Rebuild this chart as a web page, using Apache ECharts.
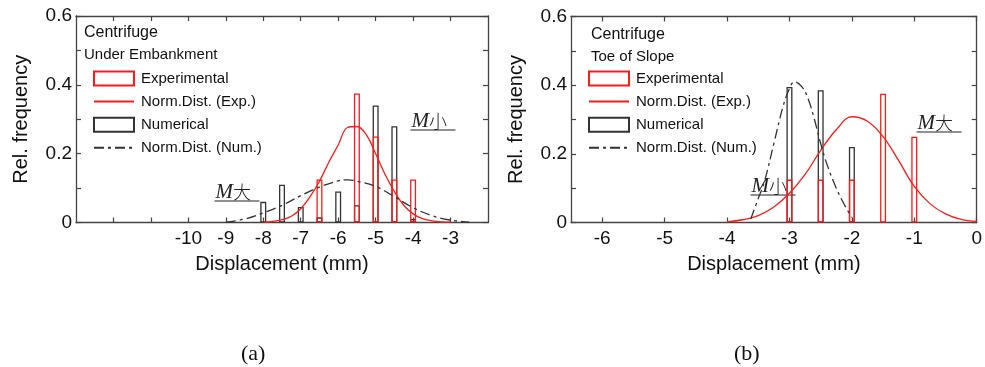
<!DOCTYPE html>
<html>
<head>
<meta charset="utf-8">
<script src="https://cdn.jsdelivr.net/npm/echarts@6/dist/echarts.min.js"></script>
<style>
  html, body { margin: 0; padding: 0; background: #fff; }
  #chart { width: 985px; height: 367px; }
</style>
</head>
<body>
<div id="chart"></div>
<script>
// (a) Under Embankment
const aBins = [-8, -7.5, -7, -6.5, -6, -5.5, -5, -4.5, -4]
const aExp = [0, 0, 0, 0.125, 0, 0.375, 0.25, 0.125, 0.125]
const aNum = [0.06, 0.11, 0.045, 0.015, 0.09, 0.05, 0.34, 0.28, 0.01]
const aExpCurveX = [-8, -7.75, -7.5, -7.25, -7, -6.75, -6.5, -6.25, -6, -5.75, -5.5, -5.25, -5, -4.75, -4.5, -4.25, -4, -3.75, -3.5, -3.25, -3]
const aExpCurveY = [0.001, 0.003, 0.008, 0.018, 0.04, 0.075, 0.12, 0.175, 0.225, 0.276, 0.279, 0.255, 0.2, 0.14, 0.09, 0.05, 0.025, 0.011, 0.005, 0.002, 0.001]
const aNumCurveX = [-9, -8.5, -8, -7.5, -7, -6.5, -6, -5.75, -5.5, -5, -4.5, -4, -3.5, -3, -2.5]
const aNumCurveY = [0.001, 0.01, 0.028, 0.05, 0.078, 0.103, 0.121, 0.124, 0.12, 0.105, 0.075, 0.043, 0.02, 0.007, 0.001]
const aTicks = [-12, -11, -10, -9, -8, -7, -6, -5, -4, -3]
const aLabels = [-10, -9, -8, -7, -6, -5, -4, -3]

// (b) Toe of Slope
const bBins = [-3, -2.5, -2, -1.5, -1]
const bExp = [0.125, 0.125, 0.125, 0.375, 0.25]
const bNum = [0.395, 0.385, 0.22, 0, 0]
const bExpCurveX = [-4, -3.75, -3.5, -3.25, -3, -2.75, -2.5, -2.25, -2, -1.75, -1.5, -1.25, -1, -0.75, -0.5, -0.25, 0]
const bExpCurveY = [0.002, 0.008, 0.02, 0.045, 0.085, 0.14, 0.21, 0.27, 0.308, 0.295, 0.25, 0.18, 0.105, 0.055, 0.025, 0.009, 0.003]
const bNumCurveX = [-3.62, -3.5, -3.4, -3.25, -3.1, -3, -2.92, -2.8, -2.7, -2.6, -2.5, -2.4, -2.25, -2.1, -2]
const bNumCurveY = [0.01, 0.07, 0.12, 0.23, 0.34, 0.39, 0.41, 0.395, 0.36, 0.3, 0.23, 0.17, 0.1, 0.045, 0.015]
const bTicks = [-6, -5, -4, -3, -2, -1, 0]

const FONT = 'Liberation Sans'
const RED = '#ff1a1a'
const DARK = '#333'
const AXIS = '#444'

const pairs = (xs, ys) => xs.map((x, i) => [x, ys[i]]).filter(p => p[1] > 0)

function axesFor(g, min, max, ticks, labels) {
  const common = {
    type: 'value', gridIndex: g, min, max,
    splitLine: { show: false },
    axisLine: { onZero: false, lineStyle: { color: AXIS, width: 1.3 } },
    axisTick: { inside: true, length: 5, customValues: ticks, lineStyle: { color: AXIS, width: 1.2 } },
  }
  const x = [
    {
      ...common, position: 'bottom',
      axisLabel: { customValues: labels, fontSize: 19, color: '#111', fontFamily: FONT, margin: 7 },
      name: 'Displacement (mm)', nameLocation: 'middle', nameGap: 32,
      nameTextStyle: { fontSize: 20, color: '#111', fontFamily: FONT },
    },
    { ...common, position: 'top', axisLabel: { show: false } },
  ]
  const yCommon = {
    type: 'value', gridIndex: g, min: 0, max: 0.6, interval: 0.1,
    splitLine: { show: false },
    axisLine: { show: true, onZero: false, lineStyle: { color: AXIS, width: 1.3 } },
    axisTick: { show: true, inside: true, length: 5, lineStyle: { color: AXIS, width: 1.2 } },
  }
  const y = [
    {
      ...yCommon, position: 'left',
      axisLabel: {
        fontSize: 19, color: '#111', fontFamily: FONT, margin: 4,
        formatter: v => (Math.round(v * 10) % 2 ? '' : (v === 0 ? '0' : v.toFixed(1))),
      },
      name: 'Rel. frequency', nameLocation: 'middle', nameGap: 45,
      nameTextStyle: { fontSize: 20, color: '#111', fontFamily: FONT },
    },
    { ...yCommon, position: 'right', axisLabel: { show: false } },
  ]
  return { x, y }
}

function seriesFor(g, bins, exp, num, ecx, ecy, ncx, ncy) {
  const xi = g * 2, yi = g * 2
  return [
    {
      name: 'Numerical', type: 'bar', xAxisIndex: xi, yAxisIndex: yi,
      barWidth: 6, data: pairs(bins, num),
      itemStyle: { color: 'rgba(0,0,0,0)', borderColor: DARK, borderWidth: 1.3 },
    },
    {
      name: 'Experimental', type: 'bar', xAxisIndex: xi, yAxisIndex: yi,
      barWidth: 6, barGap: '-100%', data: pairs(bins, exp),
      itemStyle: { color: 'rgba(0,0,0,0)', borderColor: RED, borderWidth: 1.3 },
    },
    {
      name: 'Norm.Dist. (Exp.)', type: 'line', xAxisIndex: xi, yAxisIndex: yi,
      symbol: 'none', smooth: 0.4, data: pairs(ecx, ecy),
      lineStyle: { color: RED, width: 1.3 }, itemStyle: { color: RED },
    },
    {
      name: 'Norm.Dist. (Num.)', type: 'line', xAxisIndex: xi, yAxisIndex: yi,
      symbol: 'none', smooth: 0.4, data: pairs(ncx, ncy),
      lineStyle: { color: DARK, width: 1.3, type: [10, 4, 3, 4] }, itemStyle: { color: DARK },
    },
  ]
}

function legendFor(left) {
  return {
    orient: 'vertical', left, top: 65.5, itemWidth: 40, itemHeight: 14, itemGap: 7.6,
    selectedMode: false,
    textStyle: { fontSize: 15, color: '#111', fontFamily: FONT, lineHeight: 14, padding: [0, 0, 0, 2] },
    data: [
      { name: 'Experimental', icon: 'rect' },
      { name: 'Norm.Dist. (Exp.)', itemStyle: { opacity: 0 } },
      { name: 'Numerical', icon: 'rect' },
      { name: 'Norm.Dist. (Num.)', itemStyle: { opacity: 0 } },
    ],
  }
}

function annotation(x, y, big) {
  return {
    type: 'group', left: x, top: y,
    children: [
      {
        type: 'text', x: 0, y: 0,
        style: {
          text: '{m|M}{k|' + (big ? '大' : '小') + '}',
          rich: {
            m: { fontFamily: 'Liberation Serif', fontStyle: 'italic', fontSize: 21, fill: '#222' },
            k: { fontFamily: 'Noto Sans CJK JP', fontWeight: 300, fontSize: 18, fill: '#222' },
          },
        },
      },
      { type: 'line', shape: { x1: -1, y1: 19, x2: 44, y2: 19 }, style: { stroke: '#222', lineWidth: 1 } },
    ],
  }
}

const A = axesFor(0, -13, -2, aTicks, aLabels)
const B = axesFor(1, -6.5, 0, bTicks, bTicks)

const option = {
  animation: false,
  textStyle: { fontFamily: FONT },
  title: [
    {
      text: 'Centrifuge', subtext: 'Under Embankment', left: 84, top: 25, padding: 0, itemGap: 6,
      textStyle: { fontSize: 16, fontWeight: 'normal', color: '#111', fontFamily: FONT },
      subtextStyle: { fontSize: 15, color: '#111', fontFamily: FONT },
    },
    {
      text: 'Centrifuge', subtext: 'Toe of Slope', left: 591, top: 27, padding: 0, itemGap: 6,
      textStyle: { fontSize: 16, fontWeight: 'normal', color: '#111', fontFamily: FONT },
      subtextStyle: { fontSize: 15, color: '#111', fontFamily: FONT },
    },
  ],
  legend: [legendFor(88), legendFor(583)],
  grid: [
    { left: 76, top: 16, width: 412, height: 206.5 },
    { left: 571, top: 16.5, width: 409, height: 206 },
  ],
  xAxis: [...A.x, ...B.x],
  yAxis: [...A.y, ...B.y],
  series: [
    ...seriesFor(0, aBins, aExp, aNum, aExpCurveX, aExpCurveY, aNumCurveX, aNumCurveY),
    ...seriesFor(1, bBins, bExp, bNum, bExpCurveX, bExpCurveY, bNumCurveX, bNumCurveY),
  ],
  graphic: [
    annotation(212, 182, true),
    annotation(408, 111, false),
    annotation(748, 176, false),
    annotation(914, 113, true),
    {
      type: 'text', left: 241, top: 343,
      style: { text: '(a)', fontFamily: 'Liberation Serif', fontSize: 22, fill: '#111' },
    },
    {
      type: 'text', left: 734, top: 343,
      style: { text: '(b)', fontFamily: 'Liberation Serif', fontSize: 22, fill: '#111' },
    },
  ],
}

const chart = echarts.init(document.getElementById('chart'))
chart.setOption(option)
</script>
</body>
</html>
